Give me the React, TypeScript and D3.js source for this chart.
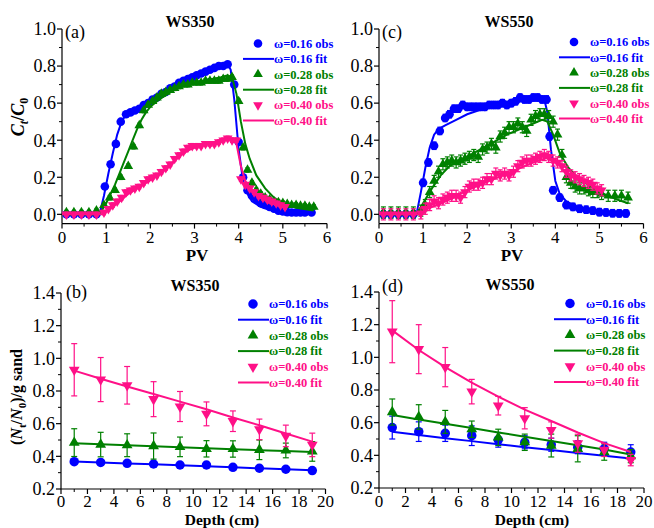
import React from 'react';
import * as d3 from 'd3';

const FONT = '"Liberation Serif", "Times New Roman", Times, serif';
const BLUE = '#0000ff';
const GREEN = '#008000';
const PINK = '#ff1087';

const labels = ['ω=0.16', 'ω=0.28', 'ω=0.40'];

// ---------- (a) WS350, C/C0 vs PV ----------
const a16Pv = [0.1, 0.27, 0.44, 0.61, 0.78, 0.97, 1.1, 1.22, 1.33, 1.45, 1.55, 1.65, 1.75, 1.85, 1.95, 2.05, 2.15, 2.25, 2.35, 2.45, 2.55, 2.65, 2.75, 2.85, 2.95, 3.05, 3.15, 3.25, 3.35, 3.45, 3.55, 3.65, 3.75, 3.9, 4.0, 4.1, 4.2, 4.3, 4.4, 4.5, 4.6, 4.7, 4.8, 4.9, 5.0, 5.1, 5.2, 5.3, 5.4, 5.5, 5.65];
const a16Obs = [0, 0, 0, 0, 0, 0.15, 0.27, 0.38, 0.5, 0.54, 0.55, 0.56, 0.57, 0.59, 0.6, 0.62, 0.63, 0.65, 0.66, 0.68, 0.69, 0.71, 0.72, 0.73, 0.74, 0.75, 0.76, 0.77, 0.78, 0.79, 0.8, 0.8, 0.81, 0.7, 0.39, 0.2, 0.13, 0.1, 0.08, 0.06, 0.05, 0.04, 0.03, 0.02, 0.015, 0.012, 0.01, 0.01, 0.01, 0.01, 0.01];
const a16FitPv = [0, 0.85, 0.95, 1.05, 1.15, 1.25, 1.35, 1.45, 1.6, 1.8, 2.0, 2.2, 2.4, 2.6, 2.8, 3.0, 3.2, 3.4, 3.6, 3.75, 3.82, 3.9, 4.0, 4.1, 4.2, 4.3, 4.5, 4.7, 5.0, 5.3, 5.65];
const a16Fit = [0, 0, 0.1, 0.22, 0.33, 0.43, 0.5, 0.54, 0.56, 0.59, 0.62, 0.65, 0.68, 0.71, 0.73, 0.75, 0.77, 0.79, 0.8, 0.81, 0.78, 0.62, 0.35, 0.18, 0.11, 0.07, 0.04, 0.025, 0.012, 0.006, 0.004];

const a28Pv = [0.1, 0.27, 0.44, 0.61, 0.78, 0.95, 1.08, 1.2, 1.33, 1.5, 1.62, 1.75, 1.85, 1.95, 2.05, 2.15, 2.25, 2.35, 2.45, 2.55, 2.65, 2.75, 2.85, 2.95, 3.05, 3.15, 3.25, 3.35, 3.45, 3.55, 3.65, 3.75, 3.85, 4.0, 4.1, 4.2, 4.3, 4.4, 4.5, 4.6, 4.7, 4.8, 4.9, 5.0, 5.1, 5.2, 5.3, 5.4, 5.5, 5.6, 5.7];
const a28Obs = [0.01, 0.01, 0.01, 0.01, 0.02, 0.05, 0.09, 0.13, 0.2, 0.26, 0.365, 0.48, 0.56, 0.59, 0.61, 0.63, 0.65, 0.66, 0.67, 0.68, 0.69, 0.7, 0.7, 0.71, 0.71, 0.71, 0.72, 0.72, 0.72, 0.72, 0.73, 0.73, 0.74, 0.61, 0.36, 0.24, 0.17, 0.13, 0.11, 0.09, 0.08, 0.07, 0.065, 0.06, 0.055, 0.05, 0.05, 0.045, 0.045, 0.04, 0.04];
const a28FitPv = [0, 0.85, 1.0, 1.1, 1.2, 1.3, 1.4, 1.5, 1.6, 1.7, 1.8, 1.9, 2.0, 2.2, 2.4, 2.6, 2.8, 3.0, 3.2, 3.4, 3.6, 3.75, 3.85, 3.95, 4.05, 4.15, 4.25, 4.4, 4.6, 4.8, 5.0, 5.3, 5.7];
const a28Fit = [0, 0, 0.06, 0.11, 0.16, 0.22, 0.28, 0.34, 0.4, 0.46, 0.51, 0.55, 0.58, 0.62, 0.65, 0.68, 0.7, 0.71, 0.72, 0.73, 0.74, 0.75, 0.74, 0.65, 0.5, 0.38, 0.3, 0.21, 0.14, 0.09, 0.06, 0.035, 0.02];

const a40Pv = [0.1, 0.27, 0.44, 0.61, 0.78, 0.95, 1.05, 1.15, 1.25, 1.35, 1.45, 1.55, 1.65, 1.75, 1.85, 1.95, 2.05, 2.15, 2.25, 2.35, 2.45, 2.55, 2.65, 2.75, 2.85, 2.95, 3.05, 3.15, 3.25, 3.35, 3.45, 3.55, 3.65, 3.75, 3.85, 3.95, 4.05, 4.15, 4.25, 4.35, 4.45, 4.55, 4.65, 4.75, 4.85, 4.95, 5.05];
const a40Obs = [0, 0, 0, 0, 0, 0.01, 0.03, 0.05, 0.07, 0.09, 0.12, 0.13, 0.14, 0.15, 0.17, 0.19, 0.2, 0.21, 0.23, 0.25, 0.27, 0.3, 0.32, 0.34, 0.36, 0.37, 0.37, 0.37, 0.38, 0.38, 0.38, 0.39, 0.4, 0.41, 0.4, 0.4, 0.19, 0.16, 0.14, 0.12, 0.1, 0.09, 0.08, 0.07, 0.06, 0.05, 0.04];
const a40FitPv = [0, 0.9, 1.1, 1.3, 1.5, 1.7, 1.9, 2.1, 2.3, 2.5, 2.7, 2.9, 3.1, 3.3, 3.5, 3.7, 3.85, 3.95, 4.05, 4.15, 4.3, 4.5, 4.7, 4.9, 5.05];
const a40Fit = [0, 0, 0.03, 0.07, 0.11, 0.14, 0.17, 0.2, 0.24, 0.28, 0.32, 0.35, 0.37, 0.38, 0.39, 0.4, 0.41, 0.38, 0.26, 0.18, 0.13, 0.09, 0.06, 0.05, 0.04];

// ---------- (c) WS550, C/C0 vs PV ----------
const c16Pv = [0.1, 0.27, 0.44, 0.61, 0.78, 1.0, 1.12, 1.25, 1.38, 1.5, 1.6, 1.7, 1.8, 1.9, 2.0, 2.1, 2.2, 2.3, 2.4, 2.5, 2.6, 2.7, 2.8, 2.9, 3.0, 3.1, 3.2, 3.3, 3.4, 3.5, 3.6, 3.7, 3.8, 3.87, 3.95, 4.1, 4.25, 4.4, 4.55, 4.7, 4.85, 5.0, 5.15, 5.3, 5.45, 5.6];
const c16Obs = [0, 0, 0, 0, 0, 0.17, 0.28, 0.37, 0.45, 0.52, 0.54, 0.57, 0.57, 0.59, 0.58, 0.58, 0.58, 0.58, 0.58, 0.59, 0.59, 0.59, 0.6, 0.59, 0.6, 0.61, 0.63, 0.62, 0.62, 0.63, 0.63, 0.62, 0.62, 0.42, 0.13, 0.09, 0.05, 0.04, 0.03, 0.025, 0.02, 0.012, 0.01, 0.006, 0.005, 0.005];
const c16FitPv = [0, 0.85, 0.95, 1.05, 1.15, 1.25, 1.35, 1.5, 1.75, 2.0, 2.5, 3.0, 3.5, 3.75, 3.82, 3.9, 4.0, 4.1, 4.25, 4.5, 4.8, 5.1, 5.4, 5.65];
const c16Fit = [0, 0, 0.12, 0.25, 0.36, 0.43, 0.46, 0.48, 0.51, 0.54, 0.58, 0.6, 0.62, 0.62, 0.55, 0.35, 0.18, 0.11, 0.07, 0.04, 0.02, 0.012, 0.008, 0.005];

const c28Pv = [0.1, 0.27, 0.44, 0.61, 0.78, 0.95, 1.05, 1.15, 1.25, 1.35, 1.45, 1.55, 1.65, 1.75, 1.85, 1.95, 2.05, 2.15, 2.25, 2.35, 2.45, 2.55, 2.65, 2.75, 2.85, 2.95, 3.05, 3.15, 3.25, 3.35, 3.45, 3.55, 3.65, 3.75, 3.85, 3.95, 4.05, 4.15, 4.25, 4.35, 4.45, 4.55, 4.65, 4.75, 4.85, 4.95, 5.05, 5.2, 5.35, 5.5, 5.65];
const c28Obs = [0.01, 0.01, 0.01, 0.01, 0.01, 0.02, 0.05, 0.12, 0.18, 0.23, 0.27, 0.28, 0.29, 0.28, 0.29, 0.3, 0.31, 0.32, 0.31, 0.35, 0.36, 0.38, 0.36, 0.42, 0.44, 0.47, 0.47, 0.49, 0.47, 0.45, 0.51, 0.53, 0.54, 0.54, 0.53, 0.5, 0.43, 0.32, 0.2, 0.17, 0.15, 0.14, 0.14, 0.13, 0.12, 0.12, 0.11, 0.1, 0.1, 0.1, 0.09];
const c28FitPv = [0, 0.85, 1.0, 1.2, 1.4, 1.6, 1.8, 2.0, 2.3, 2.6, 2.9, 3.2, 3.5, 3.7, 3.82, 3.95, 4.1, 4.3, 4.5, 4.8, 5.1, 5.4, 5.65];
const c28Fit = [0, 0, 0.06, 0.14, 0.21, 0.26, 0.29, 0.31, 0.35, 0.39, 0.43, 0.46, 0.49, 0.51, 0.5, 0.43, 0.33, 0.25, 0.2, 0.15, 0.11, 0.08, 0.06];

const c40Pv = [0.1, 0.27, 0.44, 0.61, 0.78, 0.95, 1.05, 1.15, 1.25, 1.35, 1.45, 1.55, 1.65, 1.75, 1.85, 1.95, 2.05, 2.15, 2.25, 2.35, 2.45, 2.55, 2.65, 2.75, 2.85, 2.95, 3.05, 3.15, 3.25, 3.35, 3.45, 3.55, 3.65, 3.75, 3.85, 3.95, 4.05, 4.15, 4.25, 4.35, 4.45, 4.55, 4.65, 4.75, 4.85, 4.95, 5.05];
const c40Obs = [0, 0, 0, 0, 0, 0.005, 0.03, 0.05, 0.07, 0.06, 0.08, 0.09, 0.1, 0.1, 0.09, 0.12, 0.15, 0.16, 0.16, 0.17, 0.19, 0.19, 0.22, 0.21, 0.22, 0.21, 0.23, 0.26, 0.28, 0.29, 0.29, 0.3, 0.31, 0.32, 0.31, 0.29, 0.28, 0.26, 0.23, 0.21, 0.2, 0.19, 0.18, 0.17, 0.16, 0.14, 0.13];
const c40FitPv = [0, 0.9, 1.1, 1.4, 1.7, 2.0, 2.3, 2.6, 2.9, 3.2, 3.5, 3.75, 3.85, 4.0, 4.2, 4.4, 4.6, 4.8, 5.05];
const c40Fit = [0, 0, 0.03, 0.06, 0.09, 0.13, 0.16, 0.19, 0.22, 0.25, 0.28, 0.3, 0.305, 0.29, 0.26, 0.22, 0.19, 0.16, 0.13];

// ---------- (b) WS350 / (d) WS550, retention vs depth ----------
const depths = [1, 3, 5, 7, 9, 11, 13, 15, 17, 19];

const b16 = [0.367, 0.363, 0.357, 0.353, 0.347, 0.347, 0.333, 0.327, 0.321, 0.313];
const b16Err = [0.012, 0.01, 0.01, 0.012, 0.01, 0.01, 0.01, 0.012, 0.01, 0.01];
const b16Fit = [0.368, 0.362, 0.356, 0.351, 0.345, 0.339, 0.333, 0.327, 0.321, 0.315];
const b28 = [0.484, 0.472, 0.468, 0.463, 0.458, 0.446, 0.445, 0.44, 0.436, 0.43];
const b28Err = [0.085, 0.075, 0.07, 0.08, 0.06, 0.05, 0.05, 0.06, 0.045, 0.06];
const b28Fit = [0.48, 0.474, 0.468, 0.462, 0.456, 0.45, 0.444, 0.438, 0.432, 0.426];
const b40 = [0.93, 0.87, 0.835, 0.75, 0.705, 0.66, 0.615, 0.565, 0.525, 0.47];
const b40Err = [0.16, 0.135, 0.115, 0.107, 0.092, 0.073, 0.063, 0.063, 0.066, 0.072];
const b40Fit = [0.925, 0.875, 0.828, 0.782, 0.735, 0.688, 0.638, 0.59, 0.54, 0.49];

const d16 = [0.57, 0.545, 0.535, 0.52, 0.495, 0.48, 0.465, 0.45, 0.44, 0.42];
const d16Err = [0.07, 0.06, 0.05, 0.06, 0.045, 0.04, 0.04, 0.04, 0.04, 0.045];
const d16Fit = [0.545, 0.525, 0.505, 0.487, 0.468, 0.45, 0.432, 0.414, 0.397, 0.38];
const d28 = [0.665, 0.635, 0.605, 0.56, 0.51, 0.48, 0.46, 0.44, 0.42, 0.395];
const d28Err = [0.08, 0.075, 0.07, 0.05, 0.05, 0.05, 0.07, 0.08, 0.05, 0.04];
const d28Fit = [0.647, 0.62, 0.593, 0.567, 0.54, 0.514, 0.488, 0.462, 0.436, 0.405];
const d40 = [1.157, 1.05, 0.94, 0.79, 0.704, 0.627, 0.555, 0.474, 0.433, 0.371];
const d40Err = [0.19, 0.15, 0.12, 0.075, 0.057, 0.065, 0.05, 0.055, 0.04, 0.035];
const d40Fit = [1.165, 1.045, 0.94, 0.845, 0.76, 0.68, 0.61, 0.54, 0.475, 0.42];

const colors = [BLUE, GREEN, PINK];
const shapes = ['circle', 'up', 'down'];

function mkSeries(obsX, obsY, err, fitX, fitY, i) {
  return { obsX, obsY, err, fitX, fitY, color: colors[i], shape: shapes[i], label: labels[i] };
}

function Marker({ shape, x, y, size, color }) {
  const type = shape === 'circle' ? d3.symbolCircle : d3.symbolTriangle;
  const area = shape === 'circle' ? Math.PI * size * size / 4 : (Math.sqrt(3) / 4) * size * size * 1.05;
  const d = d3.symbol().type(type).size(area)();
  const rot = shape === 'down' ? ' rotate(180)' : '';
  return <path d={d} transform={`translate(${x},${y})${rot}`} fill={color} />;
}

function Panel({ cfg }) {
  const x = d3.scaleLinear().domain(cfg.xDomain).range(cfg.xRange);
  const y = d3.scaleLinear().domain(cfg.yDomain).range(cfg.yRange);
  const line = d3.line().x(d => x(d[0])).y(d => y(d[1]));
  const fmtY = d3.format('.1f');

  const xMajor = x.ticks(cfg.xTicks);
  const xMinor = x.ticks(cfg.xTicks * 2).filter(t => !xMajor.some(m => Math.abs(m - t) < 1e-9));
  const yMajor = y.ticks(cfg.yTicks);
  const yMinor = y.ticks(cfg.yTicks * 2).filter(t => !yMajor.some(m => Math.abs(m - t) < 1e-9));

  const x0 = cfg.xRange[0];
  const yBase = cfg.yRange[0];
  const yTop = cfg.yRange[1];
  const lg = cfg.legend;

  return (
    <g>
      {/* axes */}
      <line x1={x0} x2={x0} y1={yBase} y2={yTop} stroke="#000" strokeWidth={1.2} />
      <line x1={x0} x2={cfg.xRange[1]} y1={yBase} y2={yBase} stroke="#000" strokeWidth={1.2} />
      {yMajor.map(t => (
        <g key={'ym' + t}>
          <line x1={x0 - 5} x2={x0} y1={y(t)} y2={y(t)} stroke="#000" strokeWidth={1.2} />
          <text x={x0 - 6} y={y(t)} dy="0.35em" textAnchor="end" fontSize={18} fontFamily={FONT}>{fmtY(t)}</text>
        </g>
      ))}
      {yMinor.map(t => (
        <line key={'yn' + t} x1={x0 - 3} x2={x0} y1={y(t)} y2={y(t)} stroke="#000" strokeWidth={1} />
      ))}
      {xMajor.map(t => (
        <g key={'xm' + t}>
          <line x1={x(t)} x2={x(t)} y1={yBase} y2={yBase + 5} stroke="#000" strokeWidth={1.2} />
          <text x={x(t)} y={yBase + cfg.xTickDy} textAnchor="middle" fontSize={17} fontFamily={FONT}>{t}</text>
        </g>
      ))}
      {xMinor.map(t => (
        <line key={'xn' + t} x1={x(t)} x2={x(t)} y1={yBase} y2={yBase + 3} stroke="#000" strokeWidth={1} />
      ))}

      {/* data */}
      {cfg.series.map((s, si) => (
        <g key={'s' + si}>
          {s.obsX.map((xv, i) => {
            const e = Array.isArray(s.err) ? s.err[i] : s.err;
            const yv = s.obsY[i];
            return (
              <g key={'e' + i} stroke={s.color} strokeWidth={1.2}>
                <line x1={x(xv)} x2={x(xv)} y1={y(yv - e)} y2={y(yv + e)} />
                <line x1={x(xv) - cfg.cap} x2={x(xv) + cfg.cap} y1={y(yv + e)} y2={y(yv + e)} />
                <line x1={x(xv) - cfg.cap} x2={x(xv) + cfg.cap} y1={y(yv - e)} y2={y(yv - e)} />
              </g>
            );
          })}
          <path d={line(s.fitX.map((v, i) => [v, s.fitY[i]]))} fill="none" stroke={s.color} strokeWidth={2} />
          {s.obsX.map((xv, i) => (
            <Marker key={'m' + i} shape={s.shape} x={x(xv)} y={y(s.obsY[i])} size={s.shape === 'circle' ? cfg.circle : cfg.tri} color={s.color} />
          ))}
        </g>
      ))}

      {/* legend */}
      {cfg.series.map((s, si) => {
        const yo = lg.y0 + lg.step * (si * 2);
        const yf = lg.y0 + lg.step * (si * 2 + 1);
        return (
          <g key={'l' + si} fontFamily={FONT} fontWeight="bold" fontSize={12.5} fill={s.color}>
            <Marker shape={s.shape} x={lg.markerX} y={yo} size={s.shape === 'circle' ? cfg.circle : cfg.tri} color={s.color} />
            <text x={lg.textX} y={yo} dy="0.35em">{s.label + ' obs'}</text>
            <line x1={lg.lineX0} x2={lg.textX} y1={yf} y2={yf} stroke={s.color} strokeWidth={2} />
            <text x={lg.textX} y={yf} dy="0.35em">{s.label + ' fit'}</text>
          </g>
        );
      })}

      {/* titles */}
      <text x={cfg.titleX} y={cfg.titleY} textAnchor="middle" fontFamily={FONT} fontWeight="bold" fontSize={16}>{cfg.title}</text>
      <text x={cfg.tagX} y={cfg.tagY} fontFamily={FONT} fontSize={18}>{cfg.tag}</text>
      <text x={cfg.xLabelX} y={cfg.xLabelY} textAnchor="middle" fontFamily={FONT} fontWeight="bold" fontSize={cfg.xLabelSize}>{cfg.xLabel}</text>
    </g>
  );
}

const panelA = {
  xDomain: [0, 6], xRange: [62, 327], yDomain: [-0.05, 1], yRange: [223.6, 29],
  xTicks: 6, yTicks: 5, xTickDy: 19, cap: 2, circle: 8.6, tri: 9.5,
  title: 'WS350', titleX: 190, titleY: 27, tag: '(a)', tagX: 65, tagY: 38,
  xLabel: 'PV', xLabelX: 197, xLabelY: 261, xLabelSize: 17,
  legend: { lineX0: 243, textX: 274, markerX: 258, y0: 43.5, step: 15.4 },
  series: [
    mkSeries(a16Pv, a16Obs, 0.012, a16FitPv, a16Fit, 0),
    mkSeries(a28Pv, a28Obs, 0.012, a28FitPv, a28Fit, 1),
    mkSeries(a40Pv, a40Obs, 0.012, a40FitPv, a40Fit, 2),
  ],
};

const panelC = {
  xDomain: [0, 6], xRange: [379, 643.5], yDomain: [-0.05, 1], yRange: [223.6, 29],
  xTicks: 6, yTicks: 5, xTickDy: 19, cap: 2.5, circle: 8.6, tri: 9.5,
  title: 'WS550', titleX: 509, titleY: 27, tag: '(c)', tagX: 382, tagY: 38,
  xLabel: 'PV', xLabelX: 512, xLabelY: 261, xLabelSize: 17,
  legend: { lineX0: 559, textX: 590, markerX: 574, y0: 42, step: 15.3 },
  series: [
    mkSeries(c16Pv, c16Obs, 0.02, c16FitPv, c16Fit, 0),
    mkSeries(c28Pv, c28Obs, 0.03, c28FitPv, c28Fit, 1),
    mkSeries(c40Pv, c40Obs, 0.03, c40FitPv, c40Fit, 2),
  ],
};

const panelB = {
  xDomain: [0, 20], xRange: [61, 325.5], yDomain: [0.2, 1.4], yRange: [489, 293],
  xTicks: 10, yTicks: 6, xTickDy: 17.5, cap: 3, circle: 9.5, tri: 10.5,
  title: 'WS350', titleX: 195, titleY: 291, tag: '(b)', tagX: 66, tagY: 298,
  xLabel: 'Depth (cm)', xLabelX: 222, xLabelY: 524.5, xLabelSize: 15.5,
  legend: { lineX0: 238, textX: 269, markerX: 253, y0: 304, step: 15.7 },
  series: [
    mkSeries(depths, b16, b16Err, depths, b16Fit, 0),
    mkSeries(depths, b28, b28Err, depths, b28Fit, 1),
    mkSeries(depths, b40, b40Err, depths, b40Fit, 2),
  ],
};

const panelD = {
  xDomain: [0, 20], xRange: [379, 644], yDomain: [0.2, 1.4], yRange: [488, 292],
  xTicks: 10, yTicks: 6, xTickDy: 18.5, cap: 3, circle: 9.5, tri: 10.5,
  title: 'WS550', titleX: 510, titleY: 290, tag: '(d)', tagX: 382, tagY: 292,
  xLabel: 'Depth (cm)', xLabelX: 532, xLabelY: 524.5, xLabelSize: 15.5,
  legend: { lineX0: 554, textX: 586, markerX: 570, y0: 303.5, step: 15.7 },
  series: [
    mkSeries(depths, d16, d16Err, depths, d16Fit, 0),
    mkSeries(depths, d28, d28Err, depths, d28Fit, 1),
    mkSeries(depths, d40, d40Err, depths, d40Fit, 2),
  ],
};

export default function App() {
  return (
    <div style={{ position: 'absolute', left: 0, top: 0 }}>
      <svg width={654} height={528} style={{ display: 'block', background: '#fff' }}>
        <Panel cfg={panelA} />
        <Panel cfg={panelC} />
        <Panel cfg={panelB} />
        <Panel cfg={panelD} />
        {/* y axis titles */}
        <text transform="translate(24,117) rotate(-90)" textAnchor="middle" fontFamily={FONT} fontWeight="bold" fontSize={18}>
          <tspan fontStyle="italic">C</tspan>
          <tspan fontStyle="italic" fontSize={12} dy={4}>t</tspan>
          <tspan dy={-4}>/</tspan>
          <tspan fontStyle="italic">C</tspan>
          <tspan fontSize={12} dy={4}>0</tspan>
        </text>
        <text transform="translate(22,397) rotate(-90)" textAnchor="middle" fontFamily={FONT} fontWeight="bold" fontSize={16}>
          <tspan>(</tspan>
          <tspan fontStyle="italic">N</tspan>
          <tspan fontSize={11} dy={4}>t</tspan>
          <tspan dy={-4}>/</tspan>
          <tspan fontStyle="italic">N</tspan>
          <tspan fontSize={11} dy={4}>0</tspan>
          <tspan dy={-4}>)/g sand</tspan>
        </text>
      </svg>
    </div>
  );
}
